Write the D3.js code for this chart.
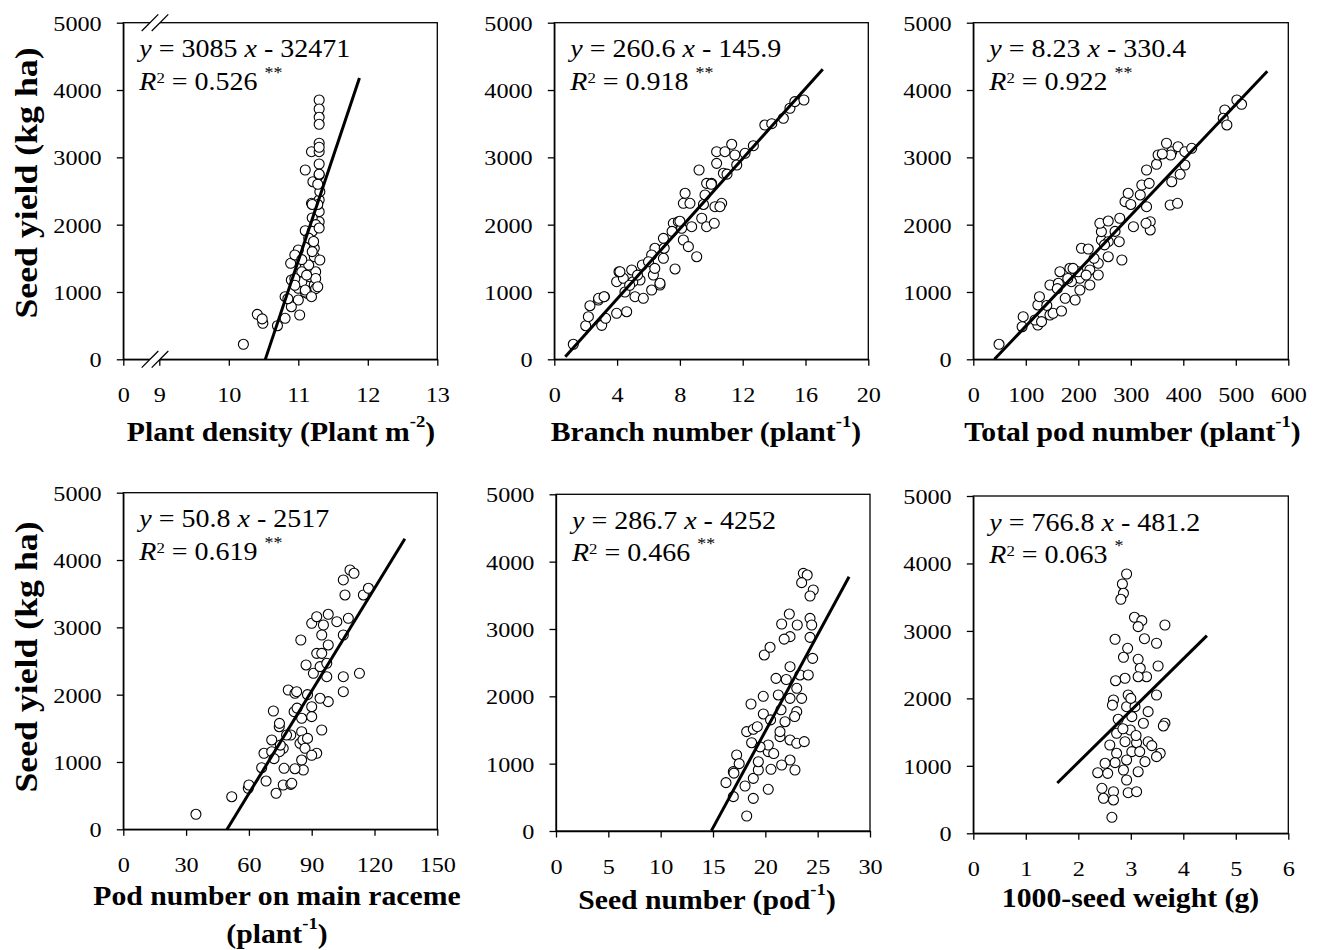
<!DOCTYPE html>
<html>
<head>
<meta charset="utf-8">
<script src="https://cdn.jsdelivr.net/npm/d3@7"></script>
<style>
body { margin: 0; background: #fff; }
svg text { font-family: "Liberation Serif", "Times New Roman", Times, serif; fill: #000; }
</style>
</head>
<body>
<svg id="chart" width="1318" height="950"></svg>
<script>

// ---- data ----
var yTicks = [0, 1000, 2000, 3000, 4000, 5000];
var densityTicks = [0, 9, 10, 11, 12, 13];
var branchTicks = [0, 4, 8, 12, 16, 20];
var podTicks = [0, 100, 200, 300, 400, 500, 600];
var mainPodTicks = [0, 30, 60, 90, 120, 150];
var seedTicks = [0, 5, 10, 15, 20, 25, 30];
var tswTicks = [0, 1, 2, 3, 4, 5, 6];

var densityX = [11.30,11.30,11.30,11.30,11.30,11.19,11.30,11.30,11.10,11.21,11.30,11.19,11.30,11.30,11.30,11.31,11.10,11.19,11.00,11.23,10.89,11.10,11.23,11.16,10.90,11.00,11.23,11.13,10.81,11.00,10.90,11.02,10.81,10.41,10.49,10.70,10.21,11.25,11.25,11.25,11.20,11.15,11.05,11.10,11.20,11.25,11.28,11.20,11.05,11.15,11.28,11.30,11.20,11.30,10.95,11.12,10.95,11.22,11.30,10.85,10.95,11.05,11.10,11.19,11.31,11.28,10.48];
var densityY = [3852,3718,3595,3491,3209,3084,3084,2901,2812,2638,2738,2317,2366,2044,2193,2490,1910,1772,1624,1649,1426,1376,1524,1227,1178,1055,1104,980,930,881,781,658,609,668,535,499,223,1300,1200,1050,1600,1400,1300,1000,2100,2000,2300,1900,1150,1800,2600,3150,2300,1950,1550,1250,1200,1750,2750,900,1100,1480,1029,930,1475,1078,600];

var branchX = [1.21,2.0,2.17,2.27,3.02,3.19,2.81,3.27,3.97,4.61,4.12,3.97,4.4,4.93,5.14,5.67,5.46,5.61,6.2,6.31,6.73,6.41,6.2,6.95,6.95,7.69,7.58,7.9,8.22,8.54,9.07,8.11,8.75,8.33,8.22,8.64,9.39,9.7,10.19,9.22,9.7,9.6,10.02,10.23,10.66,10.55,10.34,10.34,10.87,10.77,11.3,11.5,11.62,12.15,12.68,13.41,13.85,14.59,15.01,15.32,15.9,7.0,6.0,5.0,4.5,7.5,9.5,10.0,8.0,4.18,2.82,3.17,6.73,5.3,4.8,11.0,6.4];
var branchY = [223,499,633,796,504,930,881,609,683,707,1301,1153,1203,1327,930,906,1178,1401,1029,1252,1104,1649,1550,1500,1797,1342,2020,2044,1772,1673,1524,1946,1970,2466,2317,2317,2095,1970,2020,2812,2614,2441,2614,2267,2317,2267,3084,2911,3084,2763,3194,3035,2886,3060,3173,3480,3500,3580,3729,3827,3852,1650,1450,1150,1000,1900,2300,2600,2050,1301,906,930,1129,1250,1100,2750,1350];

var podX = [49,95,93,123,117.5,123,126,146,152,168,146,165,162,184,175,194,203,203,222,187,222,238,238,206,219,244,244,257,257,241,257,278,283,279,305,289,295,318,330,337,337,329,321,335,330,349,352,368,378,376,390,403,416,403,394,378,375,389,479,476,483,502,511,200,215,180,230,270,190,160,140,130,250,300,360];
var podY = [223,633,484,509,584,807,930,658,683,717,1104,1301,1129,1352,906,881,1029,1203,1104,1153,1327,1252,1426,1649,1638,1772,1896,1747,1524,2020,2054,1747,1475,2095,1970,2342,2466,2441,2267,2044,1921,2020,2589,2614,2812,2897,3035,3209,3084,3035,3158,3084,3134,2886,2748,2638,2292,2317,3704,3580,3481,3852,3788,1300,1250,1200,1500,1900,1350,1050,800,560,1700,2300,3050];

var mainPodX = [34.7,51.8,59.7,60,66.1,68.2,70.9,67.2,71.7,73,76.4,80,76.8,70.9,74.5,74.6,76.4,74.6,78.8,82,82.8,81.6,85.2,80,84.8,90,92.4,97.9,102,95.6,94.8,97.9,87.3,92.4,94.8,90.8,97.2,105.1,112.8,105.1,97.9,94,90,90,94.8,85.2,84.4,85.8,86.8,92.4,85.2,86,80.5,105.1,107.5,105.1,105.9,108.3,110.2,114.7,117.1,94,97.2,78,83,88,75,72,90,82,88];
var mainPodY = [223,484,609,658,915,717,1327,1129,1757,535,658,668,906,1153,1524,1574,1203,1153,2069,2020,2044,1747,1649,1401,2812,3060,3158,3194,3084,3035,2886,2738,2441,2614,2614,2317,2267,2267,2317,2044,1896,1946,1821,1673,1475,1450,1277,1327,1203,1129,1029,881,683,2886,3134,3704,3481,3852,3803,3481,3580,2416,2466,1400,1800,2000,1250,1050,1100,900,1350];

var seedX = [18.22,18.85,20.28,16.94,16.24,18.06,16.94,17.26,18.85,19.33,20.54,19.33,18.22,18.85,18.69,20.28,20.28,21.4,22.36,23.0,23.72,22.83,22.36,21.56,19.81,18.63,21.24,21.88,22.36,23.0,23.47,23.0,21.02,22.36,23.31,24.1,24.52,19.9,20.45,21.56,22.29,23.05,22.36,24.27,24.43,24.27,23.63,24.0,23.47,24.58,24.27,21.4,19.23,17.5,19.5,20.5,21.5,22.0,20.8,22.8,17.0,19.8,21.8];
var seedY = [223,485,619,510,718,668,881,1129,782,906,916,1029,1475,1510,1311,1178,1277,1401,1352,1302,1327,906,1054,980,1738,1886,2020,1623,1970,1772,1970,2119,2267,2440,2317,2317,2564,2614,2728,3074,3222,3059,2886,3158,3059,2876,3826,3801,3688,3579,3490,1475,1549,1000,1250,1650,1800,2250,1150,1700,860,2000,2850];

var tswX = [2.64,2.92,2.84,2.86,2.81,3.07,3.21,3.14,3.65,3.26,2.70,3.49,2.94,2.86,3.14,3.52,3.18,2.89,2.71,3.30,3.14,3.49,2.95,2.67,2.92,3.08,3.33,2.76,3.02,2.73,2.99,3.24,3.65,3.62,2.89,3.11,3.33,3.02,3.17,3.56,2.73,2.60,2.70,2.92,3.27,3.49,2.51,2.37,2.56,2.86,3.14,2.92,2.45,2.67,2.95,3.11,2.48,2.67,2.65,3.0,2.85,3.1,3.4];
var tswY = [237,3844,3696,3558,3469,3202,3152,3063,3088,2885,2876,2817,2742,2609,2579,2480,2446,2298,2262,2321,2321,2050,2050,1976,1877,1877,1803,1690,1729,1482,1531,1631,1631,1591,1358,1343,1358,1210,1210,1186,1186,1309,1047,1087,1062,1136,1038,898,889,938,913,790,667,617,602,617,519,494,1900,2000,1550,1450,1300];

// regression fits
var slopes = [3085, 260.6, 8.23, 50.8, 286.7, 766.8];
var intercepts = [-32471, -145.9, -330.4, -2517, -4252, -481.2];
var fitFrom = [10.525, 0.7, 40.2, 49.5, 14.85, 1.6];
var fitTo = [11.88, 17.1, 560, 134.5, 28.0, 4.45];
var slopeText = ["3085", "260.6", "8.23", "50.8", "286.7", "766.8"];
var interceptText = ["32471", "145.9", "330.4", "2517", "4252", "481.2"];
var r2Text = ["0.526", "0.918", "0.922", "0.619", "0.466", "0.063"];
var sigText = ["**", "**", "**", "**", "**", "*"];

// axis titles: each line is [text, superscript, tail]
var xTitles = [
    [["Plant density (Plant m", "-2", ")"]],
    [["Branch number (plant", "-1", ")"]],
    [["Total pod number (plant", "-1", ")"]],
    [["Pod number on main raceme", "", ""], ["(plant", "-1", ")"]],
    [["Seed number (pod", "-1", ")"]],
    [["1000-seed weight (g)", "", ""]]
];
var yTitle = "Seed yield (kg ha)";

// ---- layout ----
var svg = d3.select("#chart");

var panels = [
    { left: 123.3, right: 437.3, top: 22.7, bottom: 359.3, xs: densityX, ys: densityY, ticks: densityTicks, dom: [0, 9, 13], tx: 281, ty: [440.5], yt: 183 },
    { left: 554.3, right: 868.3, top: 22.7, bottom: 359.3, xs: branchX, ys: branchY, ticks: branchTicks, dom: [0, 20], tx: 706, ty: [440.5] },
    { left: 973.3, right: 1288.3, top: 22.7, bottom: 359.3, xs: podX, ys: podY, ticks: podTicks, dom: [0, 600], tx: 1132.5, ty: [440.5] },
    { left: 123.3, right: 437.3, top: 492.7, bottom: 829.3, xs: mainPodX, ys: mainPodY, ticks: mainPodTicks, dom: [0, 150], tx: 277, ty: [905, 943], yt: 657 },
    { left: 556, right: 870, top: 494.3, bottom: 831, xs: seedX, ys: seedY, ticks: seedTicks, dom: [0, 30], tx: 707, ty: [909] },
    { left: 973.3, right: 1288.3, top: 496, bottom: 833.3, xs: tswX, ys: tswY, ticks: tswTicks, dom: [0, 6], tx: 1130.5, ty: [907] }
];

function drawPanel(p, i) {
    var xr = p.dom.length == 3 ? [p.left, p.left + 36, p.right] : [p.left, p.right];
    var x = d3.scaleLinear().domain(p.dom).range(xr);
    var y = d3.scaleLinear().domain([0, 5000]).range([p.bottom, p.top]);
    var g = svg.append("g");

    // y axis
    var ay = g.append("g")
        .attr("transform", "translate(" + p.left + ",0)")
        .call(d3.axisLeft(y).tickValues(yTicks).tickFormat(d3.format("d")).tickSize(6.5).tickSizeOuter(0));
    ay.attr("font-size", 22).attr("font-family", null);
    ay.selectAll(".tick text")
        .attr("x", null).attr("dy", "0.34em")
        .attr("transform", "translate(-21.6,0) scale(1.1,1)");

    // x axis
    var ax = g.append("g")
        .attr("transform", "translate(0," + p.bottom + ")")
        .call(d3.axisBottom(x).tickValues(p.ticks).tickFormat(d3.format("d")).tickSize(6.5).tickSizeOuter(0));
    ax.attr("font-size", 22).attr("font-family", null);
    ax.selectAll(".tick text")
        .attr("y", null).attr("dy", null)
        .attr("transform", "translate(0,42.5) scale(1.1,1)");

    g.selectAll("line, path").attr("stroke", "#000").attr("stroke-width", 1.3);

    // frame
    g.append("rect")
        .attr("x", p.left).attr("y", p.top)
        .attr("width", p.right - p.left).attr("height", p.bottom - p.top)
        .attr("fill", "none").attr("stroke", "#000").attr("stroke-width", 1.3);

    // axis break marks on the density plot
    if (p.dom.length == 3) {
        [p.top, p.bottom].forEach(function (yy) {
            var x1 = p.left + 26.7, x2 = p.left + 36.7, h = 8.3;
            g.append("polygon")
                .attr("points", [[x1 - h, yy + h], [x1 + h, yy - h], [x2 + h, yy - h], [x2 - h, yy + h]].join(" "))
                .attr("fill", "#fff");
            [x1, x2].forEach(function (xx) {
                g.append("line")
                    .attr("x1", xx - h).attr("y1", yy + h)
                    .attr("x2", xx + h).attr("y2", yy - h)
                    .attr("stroke", "#000").attr("stroke-width", 1.3);
            });
        });
    }

    // points
    var n = Math.min(p.xs.length, p.ys.length);
    var pts = d3.range(n).map(function (k) { return [p.xs[k], p.ys[k]]; });
    g.append("g").selectAll("circle")
        .data(pts)
        .enter().append("circle")
        .attr("cx", function (d) { return x(d[0]); })
        .attr("cy", function (d) { return y(d[1]); })
        .attr("r", 5)
        .attr("fill", "#fff")
        .attr("stroke", "#000")
        .attr("stroke-width", 1.1);

    // regression line
    var line = d3.line()
        .x(function (d) { return x(d); })
        .y(function (d) { return y(slopes[i] * d + intercepts[i]); });
    g.append("path")
        .attr("d", line([fitFrom[i], fitTo[i]]))
        .attr("fill", "none")
        .attr("stroke", "#000")
        .attr("stroke-width", 3);

    // equation
    var e1 = g.append("g")
        .attr("transform", "translate(" + (p.left + 16) + "," + (p.top + 34.5) + ") scale(1.12,1)")
        .append("text").attr("font-size", 25);
    e1.append("tspan").attr("font-style", "italic").text("y");
    e1.append("tspan").text(" = " + slopeText[i] + " ");
    e1.append("tspan").attr("font-style", "italic").text("x");
    e1.append("tspan").text(" - " + interceptText[i]);

    var e2 = g.append("g")
        .attr("transform", "translate(" + (p.left + 16) + "," + (p.top + 67) + ") scale(1.12,1)")
        .append("text").attr("font-size", 25);
    e2.append("tspan").attr("font-style", "italic").text("R");
    e2.append("tspan").attr("font-size", 15).attr("dy", -7).text("2");
    e2.append("tspan").attr("dy", 7).text(" = " + r2Text[i] + " ");
    e2.append("tspan").attr("font-size", 16).attr("dy", -12).text(sigText[i]);

    // x title
    xTitles[i].forEach(function (ln, k) {
        var t = g.append("g")
            .attr("transform", "translate(" + p.tx + "," + p.ty[k] + ") scale(1.1,1)")
            .append("text")
            .attr("font-size", 27).attr("font-weight", "bold")
            .attr("text-anchor", "middle");
        t.append("tspan").text(ln[0]);
        if (ln[1]) {
            t.append("tspan").attr("font-size", 17).attr("dy", -14).text(ln[1]);
            t.append("tspan").attr("dy", 14).text(ln[2]);
        }
    });

    // y title, left column only
    if (p.yt) {
        g.append("g")
            .attr("transform", "translate(36.5," + p.yt + ") rotate(-90) scale(1.1,1)")
            .append("text")
            .attr("font-size", 32.5).attr("font-weight", "bold")
            .attr("text-anchor", "middle")
            .text(yTitle);
    }
}

panels.forEach(drawPanel);

</script>
</body>
</html>
